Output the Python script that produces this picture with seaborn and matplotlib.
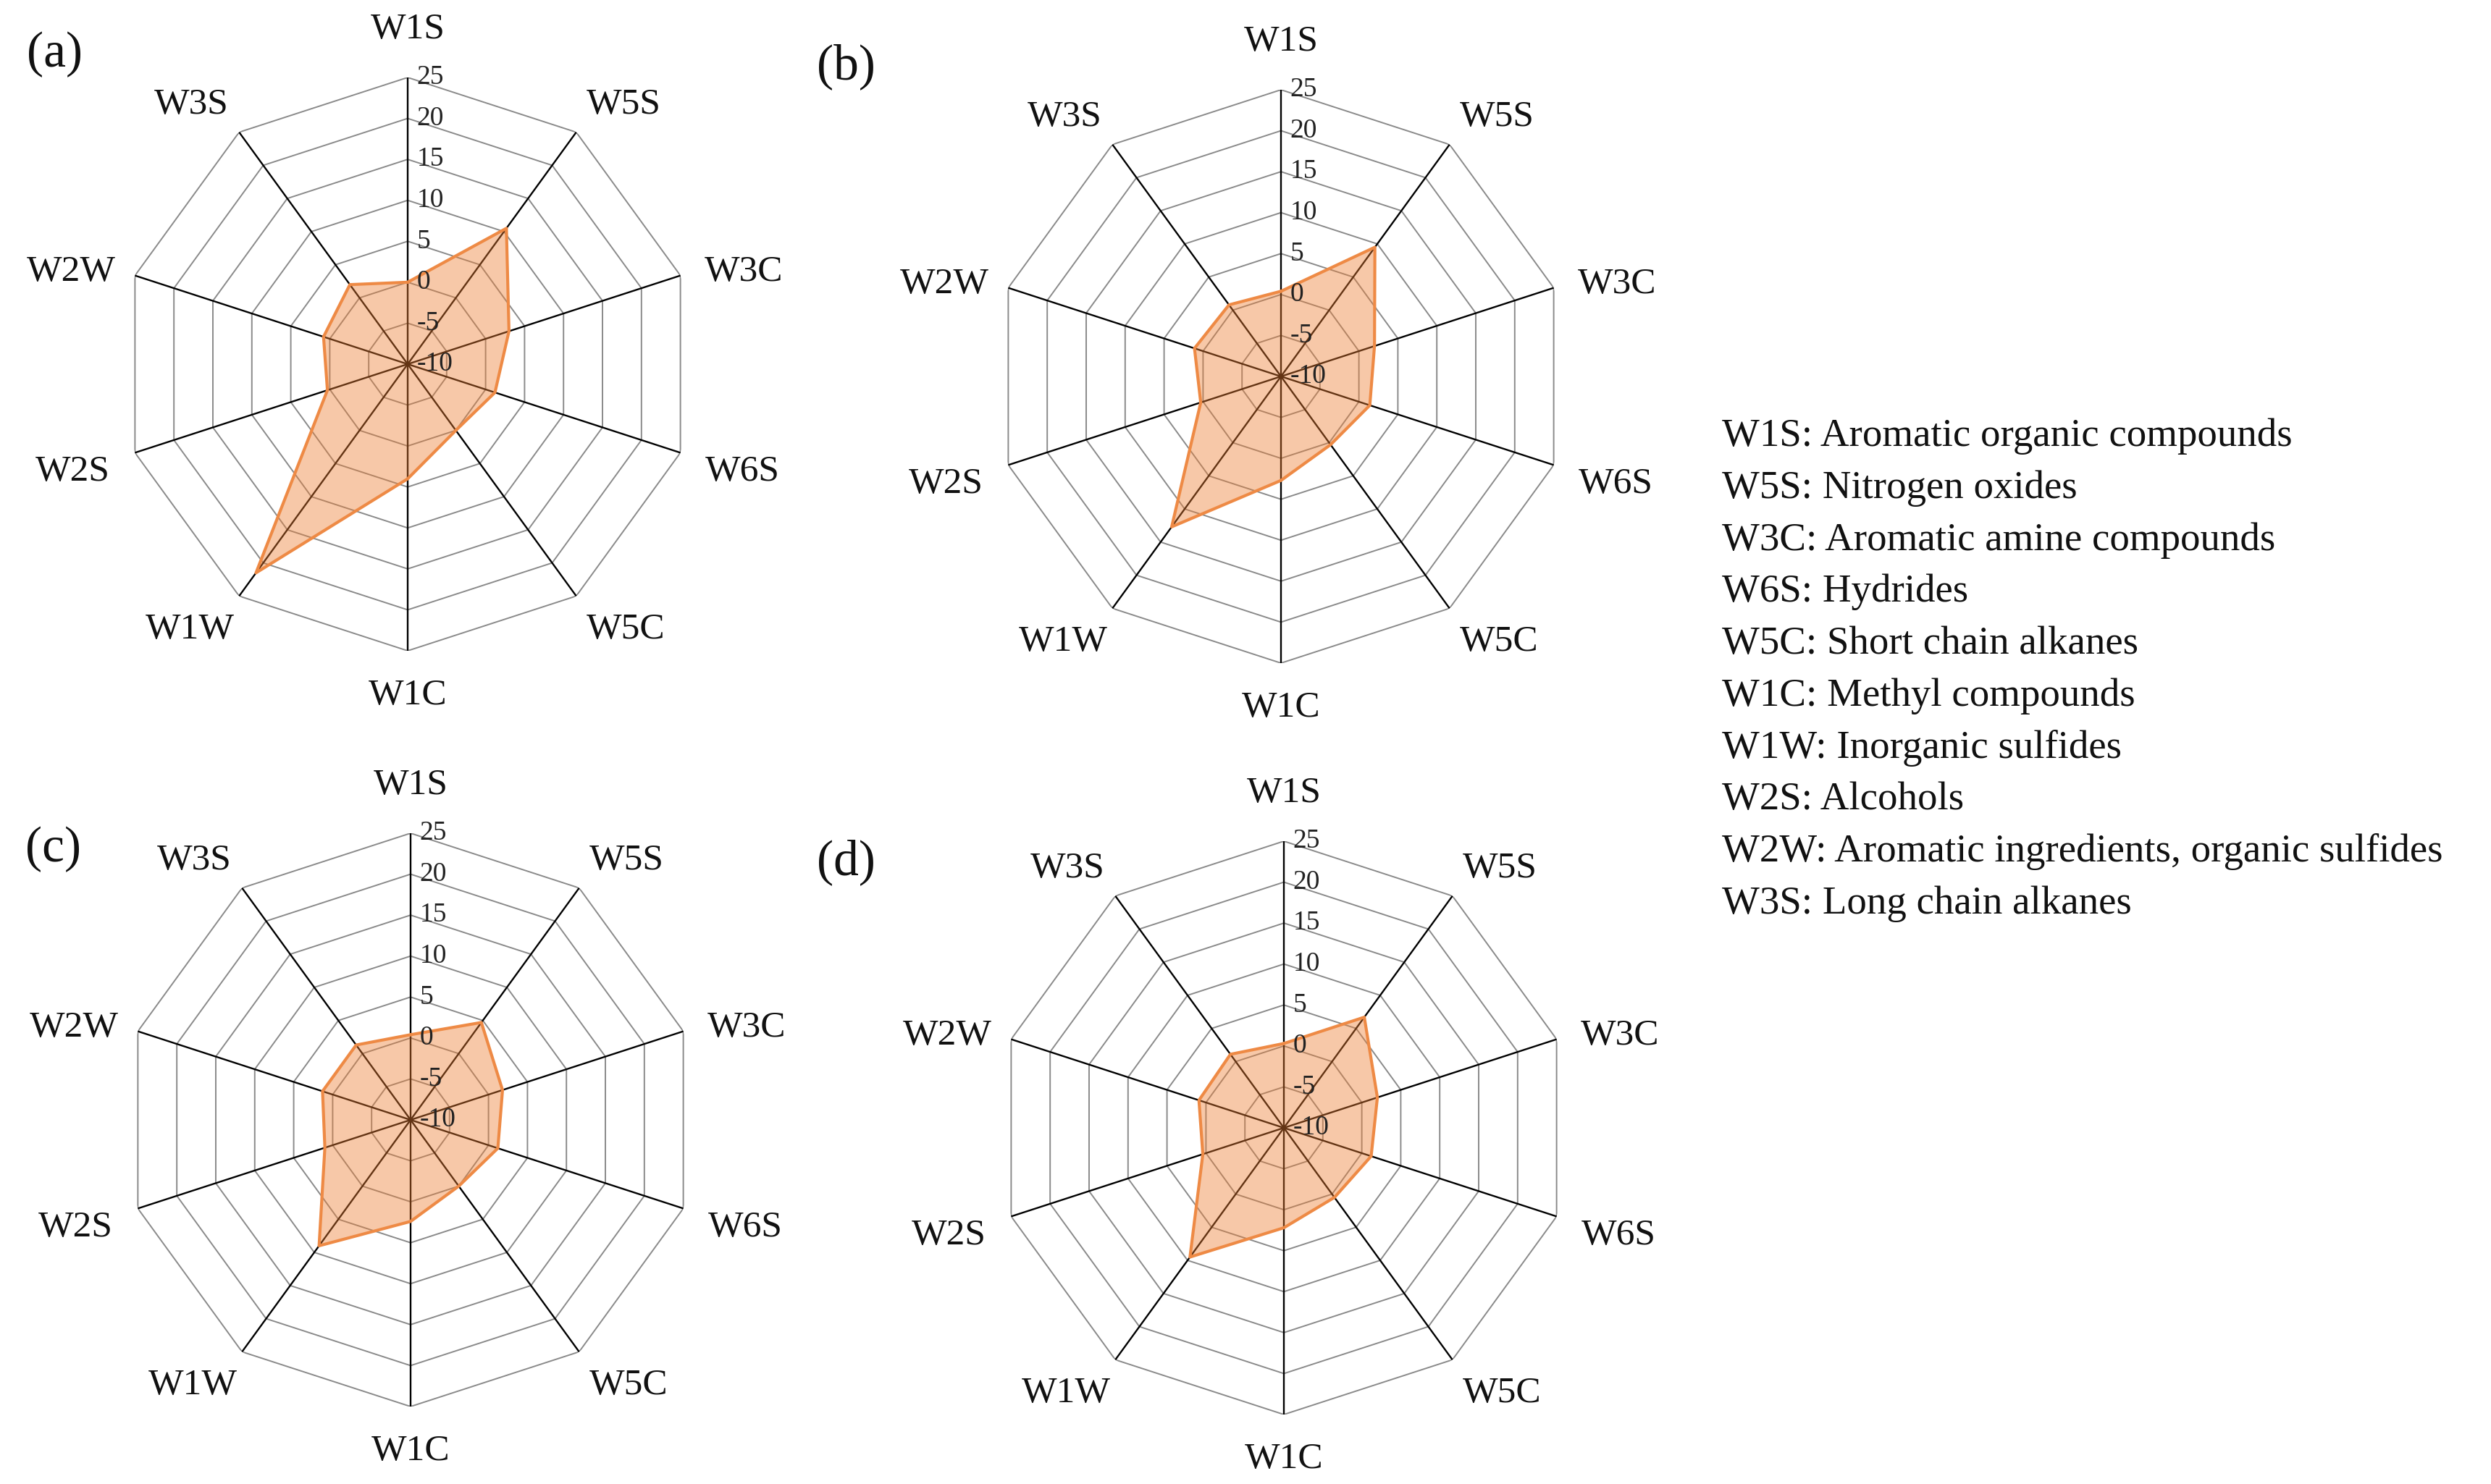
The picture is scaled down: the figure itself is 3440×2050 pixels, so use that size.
import numpy as np
import matplotlib
matplotlib.use("Agg")
import matplotlib.pyplot as plt
import seaborn as sns
import pandas as pd

# ---------------- data ----------------
categories = ["W1S", "W5S", "W3C", "W6S", "W5C", "W1C", "W1W", "W2S", "W2W", "W3S"]
values_a = [0.0, 10.5, 3.0, 1.2, 0.0, 4.0, 21.5, 0.3, 0.8, 2.0]
values_b = [0.4, 9.5, 2.0, 1.4, 0.3, 2.7, 12.7, 0.3, 1.1, 0.8]
values_c = [0.4, 4.7, 1.8, 1.2, 0.0, 2.4, 9.0, 1.0, 1.3, 1.3]
values_d = [0.3, 6.7, 2.0, 1.2, 0.5, 2.2, 9.5, 0.4, 0.9, 1.1]
panel_labels = ["(a)", "(b)", "(c)", "(d)"]
r_ticks = [-10, -5, 0, 5, 10, 15, 20, 25]
r_tick_labels = ["-10", "-5", "0", "5", "10", "15", "20", "25"]
legend_lines = [
    "W1S: Aromatic organic compounds",
    "W5S: Nitrogen oxides",
    "W3C: Aromatic amine compounds",
    "W6S: Hydrides",
    "W5C: Short chain alkanes",
    "W1C: Methyl compounds",
    "W1W: Inorganic sulfides",
    "W2S: Alcohols",
    "W2W: Aromatic ingredients, organic sulfides",
    "W3S: Long chain alkanes",
]

# ---------------- style ----------------
sns.set_theme(style="white")
plt.rcParams["font.family"] = ["Liberation Serif", "DejaVu Serif"]

W, H = 3440, 2050
fig = plt.figure(figsize=(W / 100, H / 100), dpi=100)
fig.patch.set_facecolor("white")

R = 396
centers = [(563, 503), (1769, 520), (567, 1547), (1773, 1558)]
letter_pos = [(75, 75), (1168, 92), (73, 1173), (1168, 1191)]
all_values = [values_a, values_b, values_c, values_d]

# label offsets from the outer vertex, in pixels (x right, y down)
label_offsets_px = [(0, -66), (66, -38), (88, -5), (86, 26), (68, 46),
                    (0, 62), (-68, 46), (-86, 26), (-88, -5), (-66, -38)]

orange = "#ED7D31"
n = len(categories)
theta = np.arange(n) * 2 * np.pi / n
th_closed = np.append(theta, theta[0])
px2pt = 72 / 100

for (cx, cy), vals, lab, (lx, ly) in zip(centers, all_values, panel_labels, letter_pos):
    ax = fig.add_axes([(cx - R) / W, (H - cy - R) / H, 2 * R / W, 2 * R / H],
                      projection="polar")
    ax.set_theta_zero_location("N")
    ax.set_theta_direction(-1)
    ax.set_ylim(r_ticks[0], r_ticks[-1])
    ax.grid(False)
    ax.spines["polar"].set_visible(False)
    ax.set_xticks([])
    ax.set_yticks([])
    ax.patch.set_alpha(0)

    # polygon rings
    for r in r_ticks[1:]:
        ax.plot(th_closed, [r] * (n + 1), color="#8a8a8a", lw=1.4, zorder=1)
    # spokes
    for t in theta:
        ax.plot([t, t], [r_ticks[0], r_ticks[-1]], color="black", lw=1.7, zorder=2)

    v = np.append(np.array(vals), vals[0])
    ax.fill(th_closed, v, color=orange, alpha=0.42, lw=0, zorder=3)
    df = pd.DataFrame({"theta": th_closed, "value": v})
    sns.lineplot(data=df, x="theta", y="value", sort=False, estimator=None,
                 color="#EE8A45", lw=3.0, ax=ax, zorder=4)
    ax.set_xlabel("")
    ax.set_ylabel("")

    # radial tick labels
    for r, tl in zip(r_ticks, r_tick_labels):
        ax.annotate(tl, xy=(0, r), xytext=(9, 0), textcoords="offset points",
                    ha="left", va="center", fontsize=27, color="#222222",
                    annotation_clip=False, zorder=5)

    # category labels
    for t, c, (ox, oy) in zip(theta, categories, label_offsets_px):
        ax.annotate(c, xy=(t, r_ticks[-1]), xytext=(ox * px2pt, -oy * px2pt),
                    textcoords="offset points", ha="center", va="center",
                    fontsize=37, color="#111111", annotation_clip=False)

    fig.text(lx / W, 1 - ly / H, lab, ha="center", va="center",
             fontsize=50, color="#111111")

# legend text block
y0, dy = 603, 71.7
for i, line in enumerate(legend_lines):
    fig.text(2378 / W, 1 - (y0 + i * dy) / H, line, ha="left", va="center",
             fontsize=39.5, color="#111111")

fig.savefig("out.png", dpi=100, facecolor="white")
